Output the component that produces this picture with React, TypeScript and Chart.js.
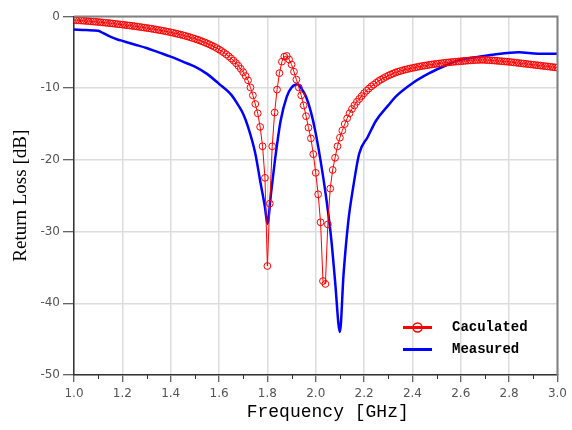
import React, { useEffect, useRef } from "react";
import { Chart, registerables } from "chart.js";

Chart.register(...registerables);

// Calculated return loss, sampled every 0.01 GHz from 1.00 GHz
const calcStartGHz = 1.0;
const calcStepGHz = 0.01;
const calcValues = [
  -0.50, -0.52, -0.55, -0.57, -0.60, -0.62, -0.65, -0.68, -0.71, -0.74,
  -0.77, -0.80, -0.84, -0.87, -0.91, -0.94, -0.98, -1.02, -1.06, -1.10,
  -1.14, -1.18, -1.22, -1.26, -1.31, -1.35, -1.40, -1.45, -1.50, -1.55,
  -1.60, -1.65, -1.70, -1.76, -1.82, -1.88, -1.94, -2.00, -2.07, -2.14,
  -2.21, -2.28, -2.36, -2.44, -2.52, -2.61, -2.70, -2.79, -2.89, -3.00,
  -3.11, -3.22, -3.34, -3.47, -3.60, -3.74, -3.89, -4.05, -4.22, -4.40,
  -4.60, -4.81, -5.04, -5.28, -5.55, -5.84, -6.15, -6.50, -6.88, -7.30,
  -7.77, -8.30, -8.90, -9.90, -11.0, -12.2, -13.5, -15.4, -18.1, -22.5,
  -34.8, -26.1, -18.1, -13.4, -10.2, -7.9, -6.3, -5.6, -5.5, -6.0,
  -6.7, -7.7, -8.8, -9.9, -11.0, -12.4, -13.9, -15.5, -17.0, -19.2,
  -21.8, -24.8, -28.7, -36.9, -37.3, -29.0, -24.0, -21.4, -19.7, -18.1,
  -16.9, -15.9, -15.0, -14.2, -13.5, -12.9, -12.4, -11.9, -11.5, -11.1,
  -10.7, -10.35, -10.05, -9.75, -9.5, -9.25, -9.0, -8.8, -8.6, -8.42,
  -8.25, -8.1, -7.95, -7.82, -7.7, -7.6, -7.5, -7.41, -7.33, -7.25,
  -7.18, -7.11, -7.04, -6.97, -6.91, -6.85, -6.8, -6.74, -6.69, -6.64,
  -6.6, -6.55, -6.51, -6.47, -6.43, -6.4, -6.36, -6.33, -6.3, -6.27,
  -6.24, -6.21, -6.18, -6.15, -6.12, -6.1, -6.08, -6.06, -6.05, -6.05,
  -6.06, -6.08, -6.1, -6.12, -6.15, -6.18, -6.21, -6.24, -6.27, -6.3,
  -6.33, -6.37, -6.41, -6.45, -6.49, -6.53, -6.57, -6.61, -6.65, -6.69,
  -6.73, -6.77, -6.81, -6.85, -6.89, -6.93, -6.97, -7.01, -7.05, -7.09,
  -7.13,
];

// Measured return loss
const measFreq = [
  1.0, 1.05, 1.1, 1.12, 1.15, 1.18, 1.2, 1.25, 1.3, 1.35, 1.4, 1.45, 1.5,
  1.55, 1.6, 1.65, 1.68, 1.7, 1.72, 1.75, 1.77, 1.79, 1.8, 1.815, 1.835,
  1.855, 1.88, 1.9, 1.925, 1.94, 1.96, 1.98, 2.0, 2.02, 2.045, 2.065, 2.08,
  2.1, 2.115, 2.135, 2.155, 2.18, 2.215, 2.25, 2.3, 2.33, 2.4, 2.47, 2.54,
  2.6, 2.67, 2.74, 2.84, 2.92, 3.0,
];
const measValues = [
  -1.8, -1.9, -2.0, -2.3, -2.8, -3.2, -3.4, -3.9, -4.4, -5.0, -5.6, -6.3, -7.0,
  -8.0, -9.4, -10.9, -12.4, -13.6, -15.4, -19.1, -22.9, -26.6, -28.9, -24.7, -19.1,
  -14.5, -11.2, -9.9, -9.45, -10.0, -11.2, -13.3, -16.3, -20.1, -25.7, -31.3, -36.9,
  -44.0, -36.0, -28.5, -23.8, -19.1, -16.8, -14.5, -12.4, -11.2, -9.3, -7.9, -6.8,
  -6.0, -5.66, -5.3, -5.0, -5.2, -5.2,
];

const xMin = 1.0;
const xMax = 3.0;
const xStep = 0.2;
const yMin = -50;
const yMax = 0;
const yStep = 10;

const seriesNames = ["Caculated", "Measured"];
const xTitle = "Frequency [GHz]";
const yTitle = "Return Loss [dB]";

const RED = "#ff0000";
const BLUE = "#0000ff";

export default function App() {
  const ref = useRef<HTMLCanvasElement | null>(null);

  useEffect(() => {
    if (!ref.current) return;

    const calcPoints = calcValues.map((v, i) => ({
      x: +(calcStartGHz + i * calcStepGHz).toFixed(2),
      y: v,
    }));
    const measPoints = measValues.map((v, i) => ({ x: measFreq[i], y: v }));

    const framePlugin = {
      id: "frameAndLegend",
      afterDraw(chart: any) {
        const { ctx, chartArea } = chart;
        const xs = chart.scales.x;
        ctx.save();
        // minor ticks on x axis
        ctx.strokeStyle = "#333";
        ctx.lineWidth = 1;
        const ticks = xs.ticks;
        for (let i = 0; i < ticks.length - 1; i++) {
          const mid = (ticks[i].value + ticks[i + 1].value) / 2;
          const px = Math.round(xs.getPixelForValue(mid)) + 0.5;
          ctx.beginPath();
          ctx.moveTo(px, chartArea.bottom);
          ctx.lineTo(px, chartArea.bottom + 4);
          ctx.stroke();
        }
        // top and right frame
        ctx.strokeStyle = "#808080";
        ctx.lineWidth = 2;
        ctx.beginPath();
        ctx.moveTo(chartArea.left, chartArea.top);
        ctx.lineTo(chartArea.right, chartArea.top);
        ctx.lineTo(chartArea.right, chartArea.bottom);
        ctx.stroke();

        // x axis title
        ctx.fillStyle = "#000";
        ctx.font = "18px 'Liberation Mono'";
        ctx.textAlign = "center";
        ctx.textBaseline = "middle";
        ctx.fillText(xTitle, (chartArea.left + chartArea.right) / 2 + 12, chartArea.bottom + 37);

        // legend
        const lx0 = chartArea.left + 329;
        const lx1 = lx0 + 29;
        const ly0 = chartArea.top + 311;
        const ly1 = ly0 + 22;
        const tx = lx0 + 49;
        ctx.lineWidth = 3;
        ctx.strokeStyle = RED;
        ctx.beginPath();
        ctx.moveTo(lx0, ly0);
        ctx.lineTo(lx1, ly0);
        ctx.stroke();
        ctx.lineWidth = 1.5;
        ctx.beginPath();
        ctx.arc((lx0 + lx1) / 2, ly0, 4.5, 0, Math.PI * 2);
        ctx.stroke();
        ctx.lineWidth = 3;
        ctx.strokeStyle = BLUE;
        ctx.beginPath();
        ctx.moveTo(lx0, ly1);
        ctx.lineTo(lx1, ly1);
        ctx.stroke();
        ctx.fillStyle = "#000";
        ctx.font = "bold 14px 'Liberation Mono'";
        ctx.textBaseline = "middle";
        ctx.textAlign = "left";
        ctx.fillText(seriesNames[0], tx, ly0);
        ctx.fillText(seriesNames[1], tx, ly1);
        ctx.restore();
      },
    };

    const chart = new Chart(ref.current, {
      type: "line",
      data: {
        datasets: [
          {
            label: seriesNames[0],
            data: calcPoints,
            borderColor: RED,
            borderWidth: 1,
            pointStyle: "circle",
            pointRadius: 3.4,
            pointBorderColor: RED,
            pointBackgroundColor: "rgba(0,0,0,0)",
            pointBorderWidth: 1,
            tension: 0,
          },
          {
            label: seriesNames[1],
            data: measPoints,
            borderColor: BLUE,
            borderWidth: 2.5,
            pointRadius: 0,
            cubicInterpolationMode: "monotone",
          },
        ],
      },
      options: {
        responsive: false,
        animation: false,
        events: [],
        layout: { padding: { left: 0, top: 16.5, right: 10, bottom: 0 } },
        plugins: {
          legend: { display: false },
          tooltip: { enabled: false },
        },
        scales: {
          x: {
            type: "linear",
            min: xMin,
            max: xMax,
            ticks: {
              stepSize: xStep,
              color: "#555",
              font: { family: "'DejaVu Sans'", size: 12 },
              padding: 5,
              callback: (v: any) => Number(v).toFixed(1),
            },
            grid: {
              color: "#dcdcdc",
              lineWidth: 1.5,
              tickColor: "#333",
              tickLength: 7,
              tickWidth: 1,
            },
            border: { color: "#333", width: 1.5 },
            title: { display: false },
            afterFit: (scale: any) => {
              scale.height = 55;
            },
          },
          y: {
            type: "linear",
            min: yMin,
            max: yMax,
            ticks: {
              stepSize: yStep,
              color: "#555",
              font: { family: "'DejaVu Sans'", size: 12 },
              padding: 3,
            },
            grid: {
              color: "#dcdcdc",
              lineWidth: 1.5,
              tickColor: "#333",
              tickLength: 11,
              tickWidth: 1,
            },
            border: { color: "#333", width: 1.5 },
            title: {
              display: true,
              text: yTitle,
              color: "#000",
              font: { family: "'Liberation Serif'", size: 19 },
              padding: { top: 10, bottom: 0 },
            },
            afterFit: (scale: any) => {
              scale.width = 74;
            },
          },
        },
      },
      plugins: [framePlugin],
    });

    return () => chart.destroy();
  }, []);

  return (
    <div style={{ position: "fixed", left: 0, top: 0, width: 572, height: 430, background: "#fff" }}>
      <canvas ref={ref} width={572} height={430} style={{ display: "block" }} />
    </div>
  );
}
